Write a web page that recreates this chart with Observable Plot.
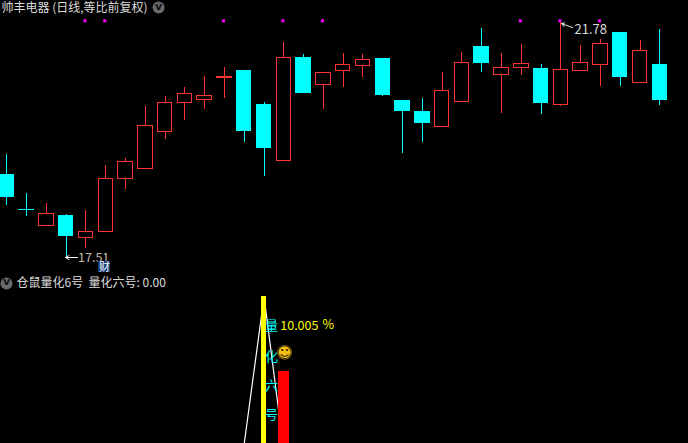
<!DOCTYPE html>
<html><head><meta charset="utf-8">
<script src="https://cdn.jsdelivr.net/npm/d3@7"></script>
<script src="https://cdn.jsdelivr.net/npm/@observablehq/plot@0.6"></script>
<style>html,body{margin:0;padding:0;background:#000;overflow:hidden}svg{display:block}
g[aria-label="rule"] line,g[aria-label="rect"] rect{shape-rendering:crispEdges}</style>
</head><body><div id="chart"></div>
<script>
const highs=[19.382,18.673,18.491,18.291,18.364,19.182,19.309,20.254,20.435,20.599,20.799,20.962,20.908,20.326,21.417,21.199,20.866,21.217,21.199,21.126,20.345,20.399,20.871,21.235,21.671,21.217,21.380,21.017,21.78,21.362,21.471,21.598,21.453,21.653];
const lows=[18.460,18.260,18.079,17.51,17.679,17.977,18.751,19.122,19.660,19.999,20.199,20.404,19.605,18.982,19.272,20.495,20.205,20.604,20.781,20.435,19.400,19.600,19.878,20.332,20.871,20.126,20.817,20.108,20.254,20.895,20.617,20.617,20.677,20.272];
const tops=[19.018,18.382,18.304,18.273,17.977,18.940,19.249,19.903,20.321,20.484,20.448,20.790,20.890,20.290,21.139,21.144,20.866,21.011,21.102,21.108,20.345,20.163,20.539,21.048,21.344,20.957,21.030,20.944,20.921,21.048,21.393,21.598,21.266,20.999];
const bottoms=[18.606,18.372,18.079,17.897,17.868,17.977,18.933,19.122,19.787,20.321,20.368,20.770,19.805,19.496,19.272,20.495,20.648,20.902,20.986,20.454,20.168,19.963,19.878,20.332,21.053,20.822,20.950,20.326,20.277,20.895,21.004,20.799,20.677,20.363];
const rising=[0,0,1,0,1,1,1,1,1,1,1,1,0,0,1,0,1,1,1,0,0,0,1,1,0,1,1,0,1,1,1,0,1,0];
const signalDays=[4,5,11,14,16,26,28,30];
const signalLevel=21.811;
const lineDays=[12,13,14];
const lineValues=[0,10.0,-0.5];
const yellowDay=13, yellowValue=10.005;
const redDay=14, redValue=4.9;
const vertLabels=["量","化","六","号"];
const vertValues=[8.03,5.9,3.95,1.96];

const CYAN="#00ffff",RED="#ff3232",TXT="#dcdcdc",FONT='"Noto Sans CJK SC","Noto Sans",sans-serif';
const candles=highs.map((h,i)=>({i,h,l:lows[i],t:tops[i],b:bottoms[i],c:rising[i]?RED:CYAN,f:rising[i]?"#000":CYAN}));
const xs={type:"linear",domain:[-0.318,34.45],range:[0,688],axis:null};
const hw=0.365;
const chevron=(x,y,yText)=>[
  Plot.dot([0],{x:()=>x,y:()=>y,r:6,fill:"#6a6a6a"}),
  Plot.text(["v"],{x:()=>x,y:()=>yText,text:d=>d,fill:"#111",fontSize:11,fontWeight:"bold",fontFamily:"DejaVu Sans"})
];

const upper=Plot.plot({width:688,height:276,marginTop:0,marginRight:0,marginBottom:0,marginLeft:0,
 style:{background:"#000",fontFamily:FONT},x:xs,
 y:{type:"linear",domain:[17.165,22.18],range:[276,0],axis:null},
 marks:[
  Plot.ruleX(candles,{x:"i",y1:"l",y2:"h",stroke:"c",strokeWidth:1}),
  Plot.rect(candles,{x1:d=>d.i-hw,x2:d=>d.i+hw,y1:"b",y2:"t",fill:"f",stroke:"c",strokeWidth:1}),
  Plot.dot(signalDays,{x:d=>d-0.05,y:()=>signalLevel,r:1.7,symbol:"square",fill:"#ff00ff"}),
  Plot.arrow([{}],{x1:()=>28.59,y1:()=>21.689,x2:()=>28.03,y2:()=>21.762,stroke:"#fff",strokeWidth:1,headLength:6,bend:false,strokeDasharray:"3,1"}),
  Plot.arrow([{}],{x1:()=>3.57,y1:()=>17.51,x2:()=>2.97,y2:()=>17.51,stroke:"#fff",strokeWidth:1,headLength:7,bend:false}),
  Plot.text(["21.78"],{x:()=>28.69,y:()=>21.653,text:d=>d,textAnchor:"start",fill:TXT,fontSize:13}),
  Plot.text(["17.51"],{x:()=>3.6,y:()=>17.51,text:d=>d,textAnchor:"start",fill:"#c8bca8",fontSize:12.5}),
  Plot.rect([{}],{x1:()=>4.63,x2:()=>5.24,y1:()=>17.237,y2:()=>17.437,fill:"#123a78"}),
  Plot.text(["财"],{x:()=>4.935,y:()=>17.33,text:d=>d,fill:"#fff",fontSize:11}),
  Plot.text(["帅丰电器 (日线,等比前复权)"],{x:()=>-0.267,y:()=>22.034,text:d=>d,textAnchor:"start",fill:TXT,fontSize:12}),
  ...chevron(7.67,22.053,22.07)
 ]});

const lower=Plot.plot({width:688,height:167,marginTop:0,marginRight:0,marginBottom:0,marginLeft:0,
 style:{background:"#000",fontFamily:FONT},x:xs,
 y:{type:"linear",domain:[0,11.368],range:[167,0],axis:null},
 marks:[
  Plot.line(lineDays.map((d,k)=>({d,v:lineValues[k]})),{x:"d",y:"v",stroke:"#fff",strokeWidth:1.2,clip:true}),
  Plot.rect([yellowDay],{x1:d=>d-0.13,x2:d=>d+0.14,y1:()=>0,y2:()=>yellowValue,fill:"#ffff00"}),
  Plot.rect([redDay],{x1:d=>d-0.28,x2:d=>d+0.28,y1:()=>0,y2:()=>redValue,fill:"#ff0000"}),
  Plot.text(vertLabels,{x:()=>13.38,y:(d,i)=>vertValues[i],text:d=>d,fill:CYAN,fontSize:13}),
  Plot.text(["10.005"],{x:()=>13.82,y:()=>8.03,text:d=>d,textAnchor:"start",fill:"#ffff00",fontSize:12.5}),
  Plot.text(["%"],{x:()=>15.95,y:()=>8.1,text:d=>d,textAnchor:"start",fill:"#ffff00",fontSize:12.5}),
  Plot.dot([0],{x:()=>14.04,y:()=>6.2,r:7.2,fill:"#f2c21a"}),
  Plot.text(["☺"],{x:()=>14.04,y:()=>6.2,text:d=>d,fill:"#3a2600",fontSize:16,fontFamily:"DejaVu Sans"}),
  ...chevron(-0.015,10.892,11.0),
  Plot.text(["仓鼠量化6号  量化六号: 0.00"],{x:()=>0.491,y:()=>10.892,text:d=>d,textAnchor:"start",fill:TXT,fontSize:12})
 ]});
document.getElementById("chart").append(upper,lower);
</script></body></html>
